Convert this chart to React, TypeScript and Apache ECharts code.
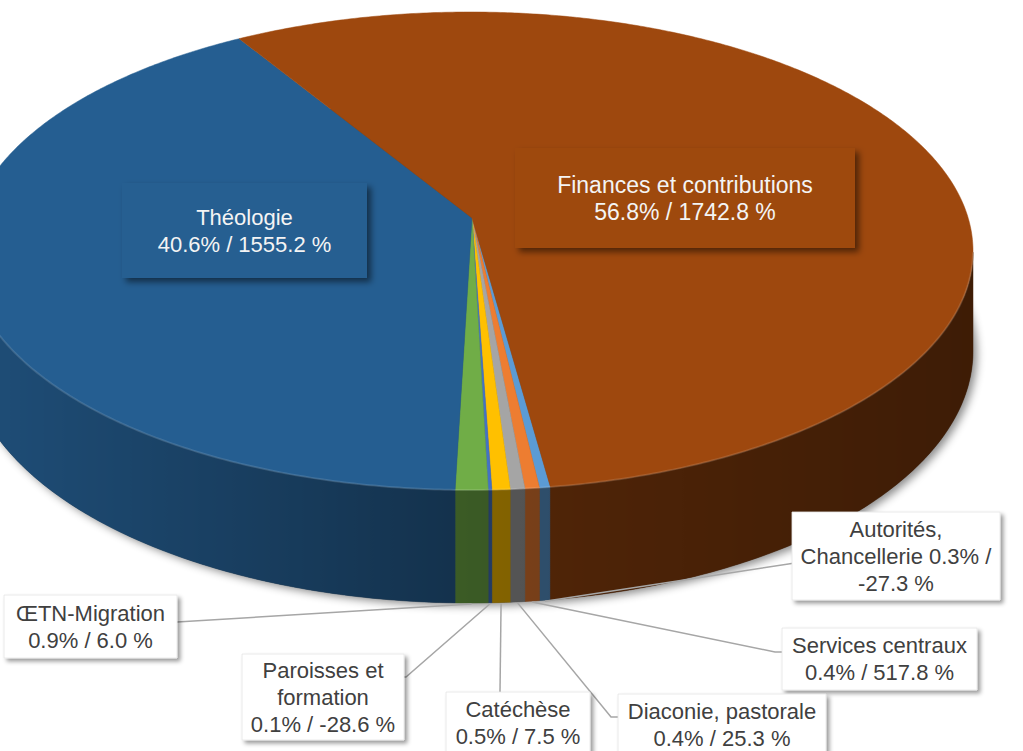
import React, { useEffect, useRef } from "react";
import * as echarts from "echarts";

// ---- data ----
const categories = [
  "Autorités, Chancellerie",
  "Services centraux",
  "Diaconie, pastorale",
  "Catéchèse",
  "Paroisses et formation",
  "ŒTN-Migration",
  "Théologie",
  "Finances et contributions",
];
const shares = [0.3, 0.4, 0.4, 0.5, 0.1, 0.9, 40.6, 56.8];
const changes = [-27.3, 517.8, 25.3, 7.5, -28.6, 6.0, 1555.2, 1742.8];
const colors = ["#5B9BD5", "#ED7D31", "#A5A5A5", "#FFC000", "#4472C4", "#70AD47", "#255E91", "#9E480E"];
// label wrapping style: n = name / values, a = split after comma, p = split before last word
const labelWrap = ["a", "n", "n", "n", "p", "n", "n", "n"];

// ---- layout (positions / styles) ----
const labelBoxes = [
  { x: 792, y: 512, w: 208, h: 88 },
  { x: 782, y: 628, w: 195, h: 62 },
  { x: 618, y: 694, w: 208, h: 62 },
  { x: 446, y: 692, w: 144, h: 62 },
  { x: 242, y: 654, w: 162, h: 86 },
  { x: 4, y: 595, w: 173, h: 63 },
  { x: 122, y: 183, w: 245, h: 95 },
  { x: 515, y: 148, w: 340, h: 100 },
];
const leaderEnds: (number[][] | null)[] = [
  [[795, 563], [801, 563]],
  [[775, 652], [783, 652]],
  [[611, 717], [619, 717]],
  [[500, 692]],
  [[406, 677], [398, 677]],
  [[177, 622]],
  null,
  null,
];

const CX = 470, CY = 251, RX = 503, RY = 239;
const APEX = [472, 218];
const DEPTH = 100, RYB = 252;
const START = 82.1, WARP = 9.45;

const total = shares.reduce((s, v) => s + v, 0);
const bounds: number[] = [];
{
  let acc = START;
  shares.forEach((v) => {
    bounds.push(acc);
    acc += (v / total) * 360;
  });
  bounds.push(acc);
}

const rad = (d: number) => (d * Math.PI) / 180;
const warp = (phi: number) => phi + WARP * Math.sin(rad(phi - 90));
const topPt = (t: number) => [CX + RX * Math.cos(rad(t)), CY + RY * Math.sin(rad(t))];
const botPt = (t: number) => [CX + RX * Math.cos(rad(t)), CY + DEPTH + RYB * Math.sin(rad(t))];

function shade(hex: string, f: number) {
  const n = parseInt(hex.slice(1), 16);
  const r = Math.min(255, Math.round(((n >> 16) & 255) * f));
  const g = Math.min(255, Math.round(((n >> 8) & 255) * f));
  const b = Math.min(255, Math.round((n & 255) * f));
  return `rgb(${r},${g},${b})`;
}
const wallFactor = (t: number) => {
  const c = Math.cos(rad(t));
  return 0.52 + 0.31 * Math.max(0, -c) - 0.13 * Math.max(0, c);
};

function labelText(i: number) {
  const s = shares[i].toFixed(1) + "%";
  const c = changes[i].toFixed(1) + " %";
  const name = categories[i];
  if (labelWrap[i] === "a") {
    const [n1, n2] = name.split(", ");
    return `${n1},\n${n2} ${s} /\n${c}`;
  }
  if (labelWrap[i] === "p") {
    const k = name.lastIndexOf(" ");
    return `${name.slice(0, k)}\n${name.slice(k + 1)}\n${s} / ${c}`;
  }
  return `${name}\n${s} / ${c}`;
}

const FONT = "'Liberation Sans', Arial, sans-serif";
const norm = (t: number) => ((t % 360) + 360) % 360;

function renderPie(params: any) {
  const i = params.dataIndex;
  const p0 = bounds[i], p1 = bounds[i + 1];
  const children: any[] = [];
  if (i === 0) {
    const pts: number[][] = [];
    for (let t = 0; t < 360; t += 2) pts.push(botPt(t));
    children.push({
      type: "polygon",
      shape: { points: pts },
      style: {
        fill: "#3a3a3a",
        shadowBlur: 8,
        shadowOffsetX: 4,
        shadowOffsetY: 3,
        shadowColor: "rgba(0,0,0,0.45)",
      },
      z2: 0,
    });
  }
  const n = Math.max(2, Math.ceil((p1 - p0) / 0.5));
  const arc: number[] = [];
  for (let k = 0; k <= n; k++) arc.push(warp(p0 + ((p1 - p0) * k) / n));
  // visible wall part (front half of the disc)
  const vis = arc.filter((t) => norm(t) <= 180.0001);
  if (vis.length >= 2) {
    const tops = vis.map(topPt);
    const bots = vis.map(botPt);
    const xs = tops.map((p) => p[0]);
    const xMin = Math.min(...xs), xMax = Math.max(...xs);
    let fill: any = shade(colors[i], wallFactor(norm(vis[0])));
    if (xMax - xMin > 1) {
      const stops = vis
        .map((t, k) => ({ offset: (xs[k] - xMin) / (xMax - xMin), color: shade(colors[i], wallFactor(norm(t))) }))
        .sort((u, v) => u.offset - v.offset);
      fill = new echarts.graphic.LinearGradient(xMin, 0, xMax, 0, stops, true);
    }
    children.push({
      type: "polygon",
      shape: { points: [...tops, ...bots.reverse()] },
      style: { fill, stroke: fill, lineWidth: 0.5 },
      z2: 5,
    });
    children.push({
      type: "polyline",
      shape: { points: tops },
      style: { stroke: "rgba(255,255,255,0.13)", lineWidth: 2, fill: "none" },
      z2: 25,
    });
  }
  children.push({
    type: "polygon",
    shape: { points: [APEX, ...arc.map(topPt)] },
    style: { fill: colors[i], stroke: colors[i], lineWidth: 0.5 },
    z2: 20,
  });
  return { type: "group", children };
}

function renderLabel(params: any) {
  const i = params.dataIndex;
  const box = labelBoxes[i];
  const inside = !leaderEnds[i];
  const children: any[] = [];
  const ends = leaderEnds[i];
  if (ends) {
    const tm = warp((bounds[i] + bounds[i + 1]) / 2);
    const a = botPt(tm);
    children.push({
      type: "polyline",
      shape: { points: [[a[0], a[1] + 1], ...ends] },
      style: { stroke: "#a6a6a6", lineWidth: 1.5, fill: "none" },
      z2: 50,
    });
  }
  children.push({
    type: "rect",
    shape: { x: box.x, y: box.y, width: box.w, height: box.h },
    style: inside
      ? {
          fill: colors[i],
          shadowBlur: 6,
          shadowOffsetX: 4,
          shadowOffsetY: 4,
          shadowColor: "rgba(0,0,0,0.5)",
        }
      : {
          fill: "#ffffff",
          stroke: "#e4e4e4",
          lineWidth: 0.8,
          shadowBlur: 4,
          shadowOffsetX: 3,
          shadowOffsetY: 3,
          shadowColor: "rgba(0,0,0,0.4)",
        },
    z2: 60,
  });
  children.push({
    type: "text",
    style: {
      text: labelText(i),
      x: box.x + box.w / 2,
      y: box.y + box.h / 2,
      align: "center",
      verticalAlign: "middle",
      fontSize: i === 7 ? 23 : 22,
      lineHeight: 27,
      fontFamily: FONT,
      fill: inside ? "#f4f4f4" : "#404040",
    },
    z2: 70,
  });
  return { type: "group", children };
}

export default function App() {
  const ref = useRef<HTMLDivElement>(null);
  useEffect(() => {
    if (!ref.current) return;
    const chart = echarts.init(ref.current, undefined, { renderer: "svg" });
    chart.setOption({
      animation: false,
      backgroundColor: "#ffffff",
      series: [
        {
          type: "custom",
          name: "slices",
          coordinateSystem: "none",
          data: shares,
          renderItem: renderPie,
          silent: true,
          z: 2,
        },
        {
          type: "custom",
          name: "labels",
          coordinateSystem: "none",
          data: shares,
          renderItem: renderLabel,
          silent: true,
          z: 3,
        },
      ],
    });
    return () => chart.dispose();
  }, []);
  return (
    <div
      ref={ref}
      style={{ position: "fixed", left: 0, top: 0, width: 1023, height: 751, background: "#fff" }}
    />
  );
}
